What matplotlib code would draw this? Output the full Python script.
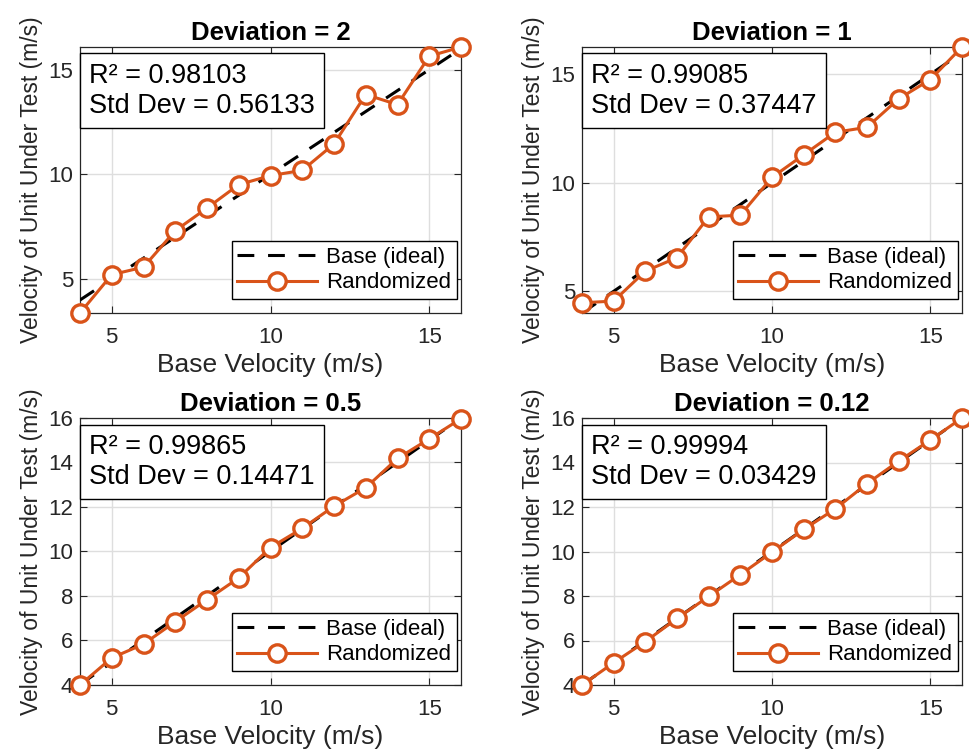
import matplotlib
matplotlib.use("Agg")
import matplotlib.pyplot as plt
import numpy as np

plt.rcParams['font.family'] = ['Liberation Sans', 'DejaVu Sans']

base_x = [4, 5, 6, 7, 8, 9, 10, 11, 12, 13, 14, 15, 16]
rand_dev2 = [3.38, 5.21, 5.57, 7.31, 8.39, 9.51, 9.94, 10.19, 11.45, 13.81, 13.33, 15.64, 16.08]
rand_dev1 = [4.47, 4.55, 5.93, 6.55, 8.43, 8.51, 10.25, 11.29, 12.33, 12.56, 13.87, 14.76, 16.26]
rand_dev05 = [3.98, 5.20, 5.82, 6.83, 7.82, 8.80, 10.17, 11.03, 12.03, 12.86, 14.18, 15.06, 15.97]
rand_dev012 = [4.00, 5.00, 5.95, 6.99, 7.98, 8.96, 9.97, 10.99, 11.92, 13.05, 14.06, 15.01, 16.00]

titles = ["Deviation = 2", "Deviation = 1", "Deviation = 0.5", "Deviation = 0.12"]
r2_vals = ["0.98103", "0.99085", "0.99865", "0.99994"]
std_vals = ["0.56133", "0.37447", "0.14471", "0.03429"]
series = [rand_dev2, rand_dev1, rand_dev05, rand_dev012]
yticks_sets = [[5, 10, 15], [5, 10, 15], [4, 6, 8, 10, 12, 14, 16], [4, 6, 8, 10, 12, 14, 16]]
xticks = [5, 10, 15]

W, H = 969, 756
fig = plt.figure(figsize=(W / 100, H / 100), dpi=100)

# axes pixel boxes: left, right, top, bottom
boxes = [(80, 461, 47, 313), (582, 962, 47, 313), (80, 461, 418, 685), (582, 962, 418, 685)]

orange = (0.85, 0.325, 0.098)
gray = (0.15, 0.15, 0.15)

for i in range(4):
    l, r, t, b = boxes[i]
    ax = fig.add_axes([l / W, 1 - b / H, (r - l) / W, (b - t) / H])
    y = series[i]
    ax.plot(base_x, base_x, color='k', lw=2.2, linestyle=(0, (5.5, 4.5)), label='Base (ideal)', zorder=3)
    ax.plot(base_x, y, color=orange, lw=2.2, marker='o', ms=12.5, mfc='white', mec=orange, mew=2.4,
            label='Randomized', zorder=4, clip_on=False)
    ymin = min(min(y), min(base_x))
    ymax = max(max(y), max(base_x))
    ax.set_xlim(4, 16)
    ax.set_ylim(ymin, ymax)
    ax.set_xticks(xticks)
    ax.set_yticks(yticks_sets[i])
    ax.grid(True, color=(0.87, 0.87, 0.87), lw=1.0)
    ax.set_axisbelow(True)
    ax.tick_params(direction='in', top=True, right=True, labelsize=16, colors=gray, length=5, width=0.8)
    ax.tick_params(axis='x', pad=10)
    ax.tick_params(axis='y', pad=5)
    for s in ax.spines.values():
        s.set_color(gray)
        s.set_linewidth(0.9)
    ax.set_title(titles[i], fontsize=18.5, fontweight='bold', pad=5)
    ax.set_xlabel("Base Velocity (m/s)", fontsize=19, color=gray, labelpad=4)
    ax.set_ylabel("Velocity of Unit Under Test (m/s)", fontsize=16.5, color=gray, labelpad=4)
    ax.text(0.024, 0.94, f"R\u00b2 = {r2_vals[i]}\nStd Dev = {std_vals[i]}", transform=ax.transAxes,
            fontsize=19.5, va='top', ha='left', linespacing=1.2, zorder=6,
            bbox=dict(boxstyle='square,pad=0.35', fc='white', ec='k', lw=1.0))
    leg = ax.legend(loc='lower right', bbox_to_anchor=(0.989, 0.053), borderaxespad=0,
                    fontsize=16, handlelength=3.6, handletextpad=0.4, labelspacing=0.2,
                    borderpad=0.25, fancybox=False, framealpha=1, edgecolor='k')
    leg.get_frame().set_linewidth(1.0)
    leg.set_zorder(7)

fig.savefig("out.png", dpi=100)
